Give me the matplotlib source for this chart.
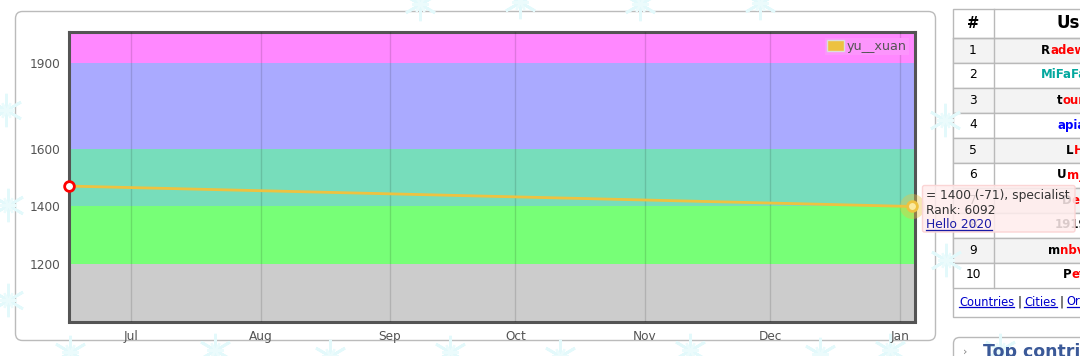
import matplotlib
matplotlib.use('Agg')
import matplotlib.pyplot as plt
import matplotlib.dates as mdates
from matplotlib.patches import FancyBboxPatch, Rectangle, Patch
import pandas as pd

# rating history of the user
handle = 'yu__xuan'
contest_dates = ['2019-06-16', '2020-01-04']
ratings = [1471, 1400]

# rating bands (codeforces colours)
band_edges = [1000, 1200, 1400, 1600, 1900, 2100]
band_colors = ['#cccccc', '#77ff77', '#77ddbb', '#aaaaff', '#ff88ff']
y_ticks = [1200, 1400, 1600, 1900]

# hover tooltip on last point
tip_lines = ['= 1400 (-71), specialist', 'Rank: 6092']
tip_link = 'Hello 2020'

# sidebar "top rated" table (cut off at the right edge)
ranks = list(range(1, 11))
name_heads = ['R', '', 't', '', 'L', 'U', 'D', '', 'm', 'P']
name_tails = ['adewoosh', 'MiFaFaOvO', 'ourist', 'apiadu', 'HiC', 'm_nik', 'e', '1919810', 'nbvmar', 'etr']
tail_colors = ['#ff0000', '#03a89e', '#ff0000', '#0000ff', '#ff0000', '#ff0000', '#ff0000', '#000000', '#ff0000', '#ff0000']
name_x = [1041, 1041, 1057, 1057, 1066, 1057, 1062, 1055, 1048, 1063]
footer_links = ['Countries', 'Cities', 'Organizations']

W, H = 1080, 356
fig = plt.figure(figsize=(W / 100, H / 100), dpi=100)
fig.patch.set_facecolor('white')

# page layer, pixel coordinates
bg = fig.add_axes([0, 0, 1, 1], zorder=0)
bg.set_xlim(0, W)
bg.set_ylim(H, 0)
bg.axis('off')

# faint snowflakes of the page background
flakes = [(6, 110), (8, 205), (8, 300), (70, 352), (215, 350), (330, 356), (450, 352),
          (560, 356), (690, 350), (820, 354), (890, 350), (420, 4), (520, 2), (640, 4),
          (760, 3), (945, 120), (946, 260), (1000, 350)]
for fx, fy in flakes:
    bg.plot(fx, fy, marker=(6, 2, 0), ms=24, mec='#e3f9fb', mew=2, clip_on=False)
    bg.plot(fx, fy, marker=(6, 2, 30), ms=12, mec='#ebfbfc', mew=1.5, clip_on=False)

# chart container
bg.add_patch(FancyBboxPatch((15.5, 11.5), 920, 329, boxstyle='round,pad=0,rounding_size=7',
                            fc='white', ec='#bbbbbb', lw=1))

# sidebar table
tx0, row_h, top0 = 952.5, 25, 37.5
bg.add_patch(Rectangle((tx0, 8.5), 200, 308, fc='white', ec='#b9b9b9', lw=1))
for i, r in enumerate(ranks):
    y0 = top0 + i * row_h
    fc = '#f3f3f3' if r % 2 == 1 else 'white'
    bg.add_patch(Rectangle((tx0, y0), 200, row_h, fc=fc, ec='#b9b9b9', lw=1))
bg.plot([994, 994], [8.5, top0 + 10 * row_h], color='#b9b9b9', lw=1)
bg.plot([tx0, W], [top0, top0], color='#b9b9b9', lw=1)
bg.text(973, 23, '#', ha='center', va='center', fontsize=10.5, fontweight='bold', color='black')
bg.text(1057, 23, 'User', ha='left', va='center', fontsize=12, fontweight='bold', color='black')

for i, r in enumerate(ranks):
    yc = top0 + i * row_h + row_h / 2
    bg.text(973, yc, str(r), ha='center', va='center', fontsize=8.8, color='black')
    if name_heads[i]:
        t = bg.text(name_x[i], yc, name_heads[i], ha='left', va='center', fontsize=8.5,
                    fontweight='bold', color='black')
        bg.annotate(name_tails[i], xy=(1, 0), xycoords=t, ha='left', va='bottom',
                    fontsize=8.5, fontweight='bold', color=tail_colors[i])
    else:
        bg.text(name_x[i], yc, name_tails[i], ha='left', va='center', fontsize=8.5,
                fontweight='bold', color=tail_colors[i])

link_texts = []
fx = 959
for j, lk in enumerate(footer_links):
    t = bg.text(fx, 302, lk, ha='left', va='center', fontsize=8.3, color='#0000cc')
    link_texts.append(t)
    fig.canvas.draw()
    bb = t.get_window_extent().transformed(bg.transData.inverted())
    if j < len(footer_links) - 1:
        bg.text(bb.x1 + 3, 302, '|', ha='left', va='center', fontsize=8.3, color='black')
    fx = bb.x1 + 10

# "Top contributors" box below
bg.add_patch(FancyBboxPatch((953.5, 337.5), 200, 40, boxstyle='round,pad=0,rounding_size=6',
                            fc='white', ec='#b9b9b9', lw=1))
bg.text(963, 352, '›', ha='left', va='center', fontsize=8, color='#888888')
bg.text(983, 352, 'Top contributors', ha='left', va='center', fontsize=12.5,
        fontweight='bold', color='#3b5998')

# rating chart
ax = fig.add_axes([68.5 / W, (H - 321.5) / H, 846 / W, 289 / H], zorder=1)
for lo, hi, c in zip(band_edges[:-1], band_edges[1:], band_colors):
    ax.axhspan(lo, hi, color=c, lw=0, zorder=0)

x = pd.to_datetime(contest_dates)
ax.plot(x, ratings, color='#edc240', lw=2, zorder=3, label=handle)
ax.plot(x[:1], ratings[:1], 'o', ms=7, mfc='white', mec='#ff0000', mew=2, zorder=4, clip_on=False)
ax.plot(x[-1:], ratings[-1:], 'o', ms=18, color='#edc240', alpha=0.4, mew=0, zorder=4, clip_on=False)
ax.plot(x[-1:], ratings[-1:], 'o', ms=7, mfc='#fbeaa0', mec='#edc240', mew=2, zorder=5, clip_on=False)

ax.set_xlim(x[0], x[-1] + pd.Timedelta(hours=14))
ax.set_ylim(1000, 2005)
ax.set_yticks(y_ticks)
ax.xaxis.set_major_locator(mdates.MonthLocator())
ax.xaxis.set_major_formatter(mdates.DateFormatter('%b'))
ax.grid(axis='x', color='black', alpha=0.13, lw=1, zorder=1)
ax.set_axisbelow(False)
for s in ax.spines.values():
    s.set_color('#545454')
    s.set_linewidth(2.2)
ax.tick_params(length=0, labelsize=8.7, colors='#545454', pad=6)

leg = ax.legend(handles=[Patch(fc='#edc240', ec='#dddddd', label=handle)], loc='upper right',
                fontsize=9.2, frameon=True, fancybox=False, facecolor='#fc95fc', edgecolor='none',
                framealpha=1, borderpad=0.15, handlelength=1.3, handleheight=0.9,
                handletextpad=0.25, borderaxespad=0.45)
for t in leg.get_texts():
    t.set_color('#545454')

# tooltip layer on top of everything
fg = fig.add_axes([0, 0, 1, 1], zorder=3)
fg.set_xlim(0, W)
fg.set_ylim(H, 0)
fg.axis('off')
fg.add_patch(FancyBboxPatch((922.5, 185.5), 152.5, 46.5, boxstyle='round,pad=0,rounding_size=2',
                            fc=(1, 0.93, 0.93, 0.86), ec='#fbd5d5', lw=1))
for k, line in enumerate(tip_lines):
    fg.text(926, 195.5 + k * 14.5, line, ha='left', va='center', fontsize=8.8, color='#333333')
hl = fg.text(926, 224.5, tip_link, ha='left', va='center', fontsize=8.8, color='#1a1aa6')
link_texts.append(hl)

# underline the links
fig.canvas.draw()
for t in link_texts:
    a = t.axes
    bb = t.get_window_extent().transformed(a.transData.inverted())
    a.plot([bb.x0, bb.x1], [max(bb.y0, bb.y1) - 1.5] * 2, color=t.get_color(), lw=0.9)

fig.savefig('out.png', dpi=100)
